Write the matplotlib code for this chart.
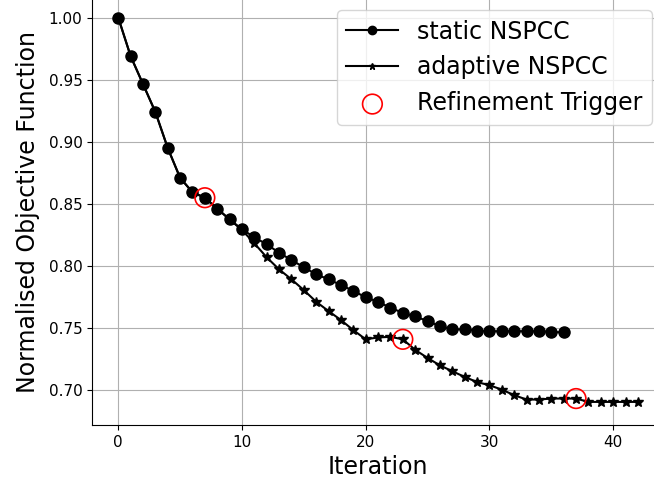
import numpy as np
import matplotlib
matplotlib.use('Agg')
import matplotlib.pyplot as plt

# Normalised objective values
static_nspcc = [1.000, 0.969, 0.9465, 0.924, 0.895, 0.871, 0.8594, 0.855, 0.8462,
                0.8375, 0.8296, 0.8231, 0.8175, 0.8107, 0.8048, 0.799, 0.7933,
                0.7893, 0.7847, 0.780, 0.7748, 0.7712, 0.7664, 0.7623, 0.7594,
                0.7557, 0.7516, 0.749, 0.749, 0.748, 0.7475, 0.7475, 0.7475,
                0.7475, 0.7475, 0.747, 0.7465]
adaptive_nspcc = [1.000, 0.969, 0.9465, 0.924, 0.895, 0.871, 0.8594, 0.855, 0.8462,
                  0.8375, 0.829, 0.8183, 0.807, 0.7973, 0.7893, 0.7806, 0.7712,
                  0.7637, 0.7565, 0.7484, 0.741, 0.7425, 0.743, 0.741, 0.7325,
                  0.726, 0.720, 0.7153, 0.7107, 0.7066, 0.704, 0.7005, 0.696,
                  0.6925, 0.6925, 0.6933, 0.6933, 0.6933, 0.6906, 0.6906, 0.6906,
                  0.6906, 0.6906]
trigger_iters = [7, 23, 37]

it_static = np.arange(len(static_nspcc))
it_adaptive = np.arange(len(adaptive_nspcc))
trigger_vals = [adaptive_nspcc[i] for i in trigger_iters]

fig = plt.figure(figsize=(6.54, 4.87), dpi=100)
# axes run slightly past the top/right edge, as in the cropped original
ax = fig.add_axes([0.1411, 0.1273, 0.874, 0.876])

ax.plot(it_static, static_nspcc, 'k-o', markersize=8, linewidth=1.5, label='static NSPCC')
ax.plot(it_adaptive, adaptive_nspcc, 'k-*', markersize=7, linewidth=1.5, label='adaptive NSPCC')
ax.scatter(trigger_iters, trigger_vals, s=200, facecolors='none', edgecolors='red',
           linewidths=1.2, zorder=3, label='Refinement Trigger')

ax.set_xlim(-2.1, 44.1)
ax.set_ylim(0.672, 1.0155)
ax.set_xticks([0, 10, 20, 30, 40])
ax.set_yticks([0.70, 0.75, 0.80, 0.85, 0.90, 0.95, 1.00])
ax.tick_params(labelsize=11)
ax.grid(True, color='#b0b0b0', linewidth=0.8)
ax.set_axisbelow(True)
ax.spines['top'].set_visible(False)
ax.spines['right'].set_visible(False)

ax.set_xlabel('Iteration', fontsize=17)
ax.set_ylabel('Normalised Objective Function', fontsize=17, labelpad=6)
leg = ax.legend(loc='upper right', fontsize=17, scatterpoints=1, handlelength=2.2)
# legend markers are a bit smaller than the plotted ones
leg.legend_handles[0].set_markersize(6)
leg.legend_handles[1].set_markersize(5)

fig.savefig('out.png', dpi=100)
